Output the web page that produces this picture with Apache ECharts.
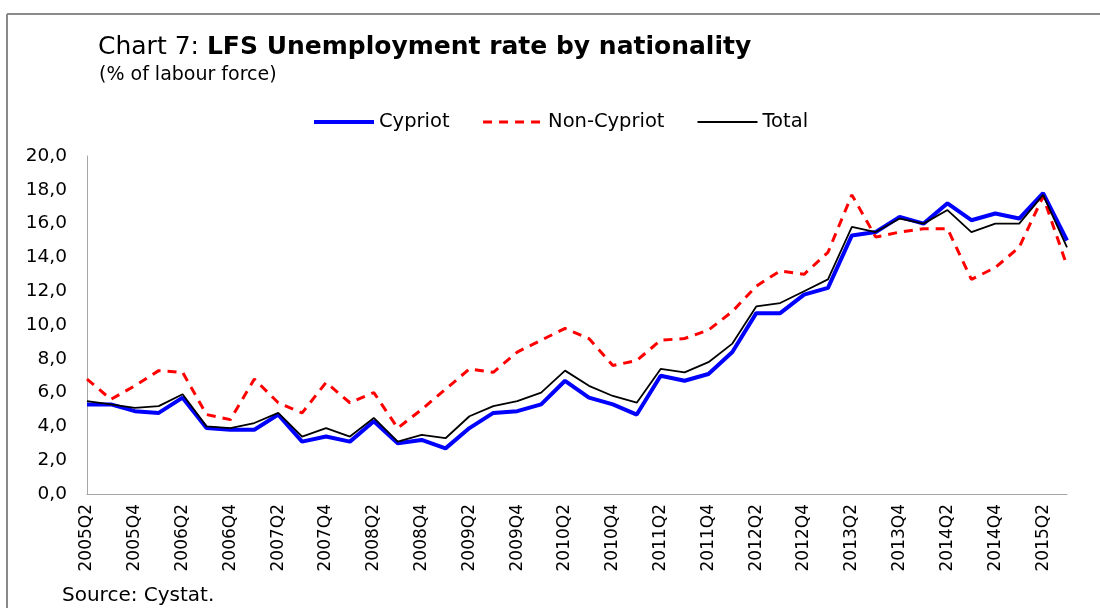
<!DOCTYPE html>
<html><head><meta charset="utf-8">
<script src="https://cdn.jsdelivr.net/npm/echarts@6/dist/echarts.min.js"></script>
<style>html,body{margin:0;padding:0;background:#fff}#c{width:1100px;height:608px}</style>
</head><body><div id="c"></div>
<script>
const quarters = [
  '2005Q2','2005Q3','2005Q4','2006Q1','2006Q2','2006Q3','2006Q4','2007Q1','2007Q2','2007Q3',
  '2007Q4','2008Q1','2008Q2','2008Q3','2008Q4','2009Q1','2009Q2','2009Q3','2009Q4','2010Q1',
  '2010Q2','2010Q3','2010Q4','2011Q1','2011Q2','2011Q3','2011Q4','2012Q1','2012Q2','2012Q3',
  '2012Q4','2013Q1','2013Q2','2013Q3','2013Q4','2014Q1','2014Q2','2014Q3','2014Q4','2015Q1',
  '2015Q2','2015Q3'];
const cypriot = [5.3,5.3,4.9,4.8,5.7,3.9,3.8,3.8,4.7,3.1,3.4,3.1,4.3,3.0,3.2,2.7,3.9,4.8,4.9,5.3,
  6.7,5.7,5.3,4.7,7.0,6.7,7.1,8.4,10.7,10.7,11.8,12.2,15.3,15.5,16.4,16.0,17.2,16.2,16.6,16.3,17.8,15.0];
const nonCypriot = [6.8,5.6,6.4,7.3,7.2,4.7,4.4,6.8,5.4,4.8,6.6,5.4,6.0,3.9,5.0,6.2,7.4,7.2,8.4,9.1,
  9.8,9.2,7.6,7.9,9.1,9.2,9.7,10.8,12.3,13.2,13.0,14.3,17.7,15.2,15.5,15.7,15.7,12.7,13.4,14.6,17.6,13.5];
const total = [5.5,5.3,5.1,5.2,5.9,4.0,3.9,4.2,4.8,3.4,3.9,3.4,4.5,3.1,3.5,3.3,4.6,5.2,5.5,6.0,
  7.3,6.4,5.8,5.4,7.4,7.2,7.8,8.9,11.1,11.3,12.0,12.7,15.8,15.5,16.3,16.0,16.8,15.5,16.0,16.0,17.7,14.6];
const seriesNames = ['Cypriot','Non-Cypriot','Total'];
const yAxisMin = 0, yAxisMax = 20, yAxisStep = 2;

const FONT = 'DejaVu Sans';
const chart = echarts.init(document.getElementById('c'));
chart.setOption({
  animation: false,
  backgroundColor: '#fff',
  title: [
    {
      left: 98, top: 35, padding: 0,
      text: '{n|Chart 7: }{b|LFS Unemployment rate by nationality}',
      textStyle: {
        rich: {
          n: {fontFamily: FONT, fontSize: 25, fontWeight: 'normal', color: '#000'},
          b: {fontFamily: FONT, fontSize: 25, fontWeight: 'bold', color: '#000'}
        }
      }
    },
    {
      left: 99, top: 66, padding: 0, text: '(% of labour force)',
      textStyle: {fontFamily: FONT, fontSize: 19, fontWeight: 'normal', color: '#000'}
    },
    {
      left: 62, top: 586, padding: 0, text: 'Source: Cystat.',
      textStyle: {fontFamily: FONT, fontSize: 20, fontWeight: 'normal', color: '#000'}
    }
  ],
  legend: {
    left: 312, top: 112, itemGap: 32, itemWidth: 60, itemHeight: 14, padding: 0,
    data: [
      {name: seriesNames[0], itemStyle: {opacity: 0}, lineStyle: {width: 4}},
      {name: seriesNames[1], itemStyle: {opacity: 0}, lineStyle: {width: 3}},
      {name: seriesNames[2], itemStyle: {opacity: 0}, lineStyle: {width: 2}}
    ],
    textStyle: {fontFamily: FONT, fontSize: 19.5, color: '#000'}
  },
  grid: {left: 87, right: 33, top: 156, bottom: 114, containLabel: false},
  xAxis: {
    type: 'category', data: quarters, boundaryGap: false,
    axisLine: {lineStyle: {color: '#a6a6a6', width: 1}},
    axisTick: {show: false},
    axisLabel: {interval: 1, rotate: 90, margin: 10, fontFamily: FONT, fontSize: 17, color: '#000'},
    splitLine: {show: false}
  },
  yAxis: {
    type: 'value', min: yAxisMin, max: yAxisMax, interval: yAxisStep,
    axisLine: {show: true, lineStyle: {color: '#a6a6a6', width: 1}},
    axisTick: {show: false},
    splitLine: {show: false},
    axisLabel: {
      margin: 20, fontFamily: FONT, fontSize: 18.5, color: '#000',
      formatter: v => v.toFixed(1).replace('.', ',')
    }
  },
  series: [
    {name: seriesNames[0], type: 'line', data: cypriot, symbol: 'none',
     lineStyle: {color: '#0000ff', width: 4}, itemStyle: {color: '#0000ff'}},
    {name: seriesNames[1], type: 'line', data: nonCypriot, symbol: 'none',
     lineStyle: {color: '#ff0000', width: 3, type: [9, 7]}, itemStyle: {color: '#ff0000'}},
    {name: seriesNames[2], type: 'line', data: total, symbol: 'none',
     lineStyle: {color: '#000000', width: 1.8}, itemStyle: {color: '#000000'}}
  ],
  graphic: [
    {type: 'line', shape: {x1: 7, y1: 14, x2: 1100, y2: 14}, style: {stroke: '#8a8a8a', lineWidth: 2}},
    {type: 'line', shape: {x1: 7, y1: 14, x2: 7, y2: 608}, style: {stroke: '#8a8a8a', lineWidth: 2}}
  ]
});
</script></body></html>
